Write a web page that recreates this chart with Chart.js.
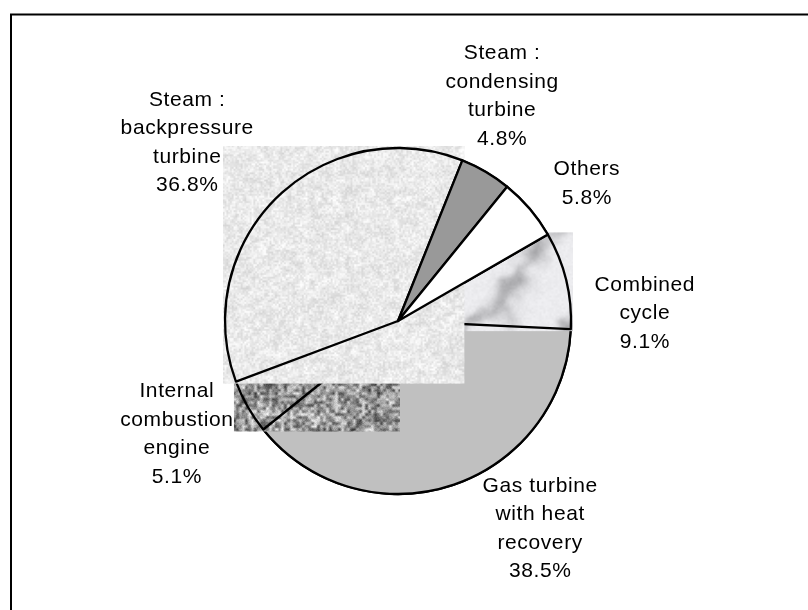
<!DOCTYPE html>
<html>
<head>
<meta charset="utf-8">
<script src="https://cdn.jsdelivr.net/npm/chart.js@4.4.1/dist/chart.umd.min.js"></script>
<style>
  html, body { margin: 0; padding: 0; background: #ffffff; }
  #wrap { width: 808px; height: 610px; }
</style>
</head>
<body>
<div id="wrap"><canvas id="c" width="808" height="610"></canvas></div>
<script>
// ---- data ----
const categories = [
  ['Steam :', 'backpressure', 'turbine'],
  ['Steam :', 'condensing', 'turbine'],
  ['Others'],
  ['Combined', 'cycle'],
  ['Gas turbine', 'with heat', 'recovery'],
  ['Internal', 'combustion', 'engine']
];
const shares = [36.8, 4.8, 5.8, 9.1, 38.5, 5.1];

// ---- styling ----
const W = 808, H = 610;
function hash2(ix, iy, seed) {
  const h = Math.sin(ix * 127.1 + iy * 311.7 + seed * 74.7) * 43758.5453;
  return h - Math.floor(h);
}
function vnoise(x, y, seed) {
  const ix = Math.floor(x), iy = Math.floor(y);
  const fx = x - ix, fy = y - iy;
  const sx = fx * fx * (3 - 2 * fx), sy = fy * fy * (3 - 2 * fy);
  const a = hash2(ix, iy, seed), b = hash2(ix + 1, iy, seed);
  const c = hash2(ix, iy + 1, seed), d = hash2(ix + 1, iy + 1, seed);
  return a + (b - a) * sx + (c - a) * sy + (a - b - c + d) * sx * sy;
}
function makeTexture(fn) {
  const cv = document.createElement('canvas');
  cv.width = W; cv.height = H;
  const cx = cv.getContext('2d');
  const img = cx.createImageData(W, H);
  const d = img.data;
  for (let y = 0; y < H; y++) {
    for (let x = 0; x < W; x++) {
      const rgb = fn(x, y);
      const k = (y * W + x) * 4;
      d[k] = Math.max(0, Math.min(255, rgb[0]));
      d[k + 1] = Math.max(0, Math.min(255, rgb[1]));
      d[k + 2] = Math.max(0, Math.min(255, rgb[2]));
      d[k + 3] = 255;
    }
  }
  cx.putImageData(img, 0, 0);
  return cv;
}
const ctx0 = document.getElementById('c').getContext('2d');
const speckle = ctx0.createPattern(makeTexture((x, y) => {
  const v = 233 + (vnoise(x / 1.8, y / 1.8, 1) - 0.5) * 30 + (vnoise(x / 6, y / 6, 2) - 0.5) * 18;
  return [v, v, v];
}), 'repeat');
const marble = ctx0.createPattern(makeTexture((x, y) => {
  const t = (x + y) / 16 + 3.0 * vnoise(x / 30, y / 30, 3) + 1.2 * vnoise(x / 10, y / 10, 4);
  const s = Math.pow(0.5 + 0.5 * Math.sin(t), 3) * (0.4 + vnoise(x / 14, y / 14, 5));
  const v = 236 - 48 * s + (vnoise(x / 2, y / 2, 8) - 0.5) * 8;
  return [v, v, v + 3];
}), 'repeat');
const granite = ctx0.createPattern(makeTexture((x, y) => {
  const v = 150 + (vnoise(x / 3, y / 3, 6) - 0.5) * 140 + (vnoise(x / 9, y / 9, 7) - 0.5) * 60 + (hash2(x, y, 9) - 0.5) * 25;
  return [v, v, v];
}), 'repeat');

const sliceFills = [speckle, '#999999', '#ffffff', marble, '#c0c0c0', granite];
const textured = [true, false, false, true, false, true];
const layerOrder = [4, 5, 3, 0, 1, 2];
// label block centres, relative to pie centre in units of radius
const labelOffsets = [
  [-1.22, -1.03], [0.60, -1.30], [1.09, -0.795], [1.425, -0.043], [0.82, 1.20], [-1.28, 0.655]
];

const framePlugin = {
  id: 'frame',
  beforeDraw(chart) {
    const c = chart.ctx;
    c.save();
    c.fillStyle = '#ffffff';
    c.fillRect(0, 0, chart.width, chart.height);
    c.strokeStyle = '#000000';
    c.lineWidth = 2;
    c.beginPath();
    c.moveTo(11, chart.height);
    c.lineTo(11, 14.5);
    c.lineTo(chart.width, 14.5);
    c.stroke();
    c.restore();
  }
};

function sectorPath(c, p) {
  c.beginPath();
  c.moveTo(p.x, p.y);
  c.arc(p.x, p.y, p.outerRadius, p.startAngle, p.endAngle);
  c.closePath();
}
function sectorBBox(p, m) {
  const xs = [p.x, p.x + p.outerRadius * Math.cos(p.startAngle), p.x + p.outerRadius * Math.cos(p.endAngle)];
  const ys = [p.y, p.y + p.outerRadius * Math.sin(p.startAngle), p.y + p.outerRadius * Math.sin(p.endAngle)];
  for (let k = -8; k <= 8; k++) {
    const a = k * Math.PI / 2;
    if (a > p.startAngle && a < p.endAngle) {
      xs.push(p.x + p.outerRadius * Math.cos(a));
      ys.push(p.y + p.outerRadius * Math.sin(a));
    }
  }
  const x0 = Math.min(...xs) - m, x1 = Math.max(...xs) + m;
  const y0 = Math.min(...ys) - m, y1 = Math.max(...ys) + m;
  return [x0, y0, x1 - x0, y1 - y0];
}

const layerPlugin = {
  id: 'layers',
  afterDatasetsDraw(chart) {
    const c = chart.ctx;
    const meta = chart.getDatasetMeta(0);
    const ds = chart.data.datasets[0];
    c.save();
    c.lineJoin = 'round';
    for (const i of layerOrder) {
      const p = meta.data[i].getProps(['x', 'y', 'startAngle', 'endAngle', 'outerRadius'], true);
      c.fillStyle = ds.backgroundColor[i];
      if (textured[i]) {
        const b = sectorBBox(p, 2);
        c.fillRect(b[0], b[1], b[2], b[3]);
      } else {
        sectorPath(c, p);
        c.fill();
      }
      sectorPath(c, p);
      c.lineWidth = 2.3;
      c.strokeStyle = '#000000';
      c.stroke();
    }
    c.restore();
  }
};

const labelPlugin = {
  id: 'outLabels',
  afterDraw(chart) {
    const c = chart.ctx;
    const meta = chart.getDatasetMeta(0);
    c.save();
    c.font = '21px "Liberation Sans", Arial, sans-serif';
    if ('letterSpacing' in c) c.letterSpacing = '0.6px';
    c.fillStyle = '#000000';
    c.textAlign = 'center';
    c.textBaseline = 'middle';
    const lh = 28.5;
    meta.data.forEach((arc, i) => {
      const p = arc.getProps(['x', 'y', 'outerRadius'], true);
      const lines = chart.data.labels[i].concat([shares[i].toFixed(1) + '%']);
      const cx = p.x + labelOffsets[i][0] * p.outerRadius;
      const cy = p.y + labelOffsets[i][1] * p.outerRadius;
      const top = cy - (lines.length - 1) * lh / 2;
      lines.forEach((t, j) => c.fillText(t, cx + 0.3, top + j * lh));
    });
    c.restore();
  }
};

new Chart(document.getElementById('c'), {
  type: 'pie',
  data: {
    labels: categories,
    datasets: [{
      data: shares,
      backgroundColor: sliceFills,
      borderColor: '#000000',
      borderWidth: 2
    }]
  },
  options: {
    responsive: false,
    animation: false,
    rotation: 249.5,
    layout: { padding: { top: 147, bottom: 115, left: 224, right: 236 } },
    plugins: {
      legend: { display: false },
      tooltip: { enabled: false }
    }
  },
  plugins: [framePlugin, layerPlugin, labelPlugin]
});
</script>
</body>
</html>
